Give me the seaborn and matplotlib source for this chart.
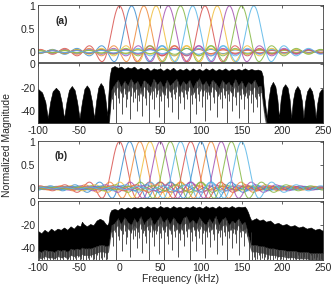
import numpy as np
import pandas as pd
import matplotlib
matplotlib.use("Agg")
import matplotlib.pyplot as plt
import seaborn as sns

# ---------------- data ----------------
centres_a = [0, 15, 30, 45, 60, 75, 90, 105, 120, 135, 150, 165]
centres_b = [0, 12.5, 25, 37.5, 50, 62.5, 75, 87.5, 100, 112.5, 125, 137.5, 150]
lobe_width = 15.0
colors_a = ["#d9534f", "#3d8fd1", "#ef8a3c", "#f0be3c", "#a552b2", "#84b844",
            "#5ab7e8", "#d9534f", "#f0be3c", "#a552b2", "#84b844", "#5ab7e8"]
colors_b = ["#d9534f", "#3d8fd1", "#ef8a3c", "#f0be3c", "#a552b2", "#84b844",
            "#5ab7e8", "#d9534f", "#3d8fd1", "#ef8a3c", "#a552b2", "#84b844", "#5ab7e8"]

# spectrum (a): upper envelope and lower edge of the dense black band (dB)
spec_a_f = [-100, -95, -91, -88, -85, -82, -78, -74, -71, -68, -65, -62, -58.5, -55, -52, -49,
            -46, -43, -40, -37, -34, -31, -28.5, -26, -23, -20, -17.5, -15, -13.5, -12, -10,
            -6, -2, 2, 6, 10, 14, 18, 22, 26, 30, 34, 38, 42, 46, 50, 54, 58, 62, 66, 70,
            74, 78, 82, 86, 90, 94, 98, 102, 106, 110, 114, 118, 122, 126, 130, 134, 138,
            142, 146, 150, 154, 158, 162, 166, 170, 174, 176, 178, 181, 183, 185.5, 188.5,
            191.5, 194, 196, 198, 200.5, 203.5, 206.5, 209, 211, 213, 215.5, 218.5, 221.5,
            224, 226, 228, 230.5, 233.5, 236.5, 239, 241, 243, 245.5, 248.5, 250]
spec_a_top = [-21, -24, -32, -46, -32, -23, -20, -23, -32, -46, -32, -22, -18.5, -22, -32, -46,
              -32, -21, -18, -21, -31, -46, -31, -20, -16, -19, -28, -44, -25, -10, -3,
              -1.5, -3, -2, -4, -2.5, -3.5, -2, -4.5, -3, -4.5, -3, -5.5, -3.5, -4.5, -3.5, -5.5,
              -3.5, -5, -3, -5.5, -4, -5, -3.5, -5.5, -3.5, -5, -4, -5.5, -3.5, -5, -3.5, -5.5,
              -4, -5, -3.5, -5.5, -4, -5, -4, -5, -3.5, -5, -4, -5, -4.5, -5.5, -10, -28, -46,
              -30, -19, -15, -19, -30, -46, -30, -20, -17, -20, -30, -46, -31, -22, -18.5, -22,
              -31, -46, -32, -23, -19.5, -23, -32, -46, -33, -24, -21, -22]
spec_a_dense = [-50, -50, -50, -50, -50, -50, -50, -50, -50, -50, -50, -50, -50, -50, -50, -50,
                -50, -50, -50, -50, -50, -50, -50, -50, -50, -50, -50, -50, -50, -40, -22,
                -17, -13, -19, -14, -18, -12, -17, -14, -20, -13, -16, -19, -12, -17, -14, -20,
                -13, -18, -15, -12, -19, -14, -17, -13, -20, -15, -12, -18, -14, -19, -13, -16,
                -20, -13, -17, -15, -19, -12, -18, -14, -20, -15, -17, -13, -19, -18, -30, -40, -50,
                -50, -50, -50, -50, -50, -50, -50, -50, -50, -50, -50, -50, -50, -50, -50, -50,
                -50, -50, -50, -50, -50, -50, -50, -50, -50, -50, -50, -50]
# downward spikes below the dense band (position kHz, lowest dB)
spike_a_f = [-9, -7.5, -5.5, -4, -2, -0.5, 1.5, 3, 4.5, 6.5, 8, 9.5, 11.5, 13, 14.5, 16.5, 18,
             19.5, 21.5, 23, 24.5, 26.5, 28, 29.5, 31.5, 33, 34.5, 36.5, 38, 39.5, 41.5, 43,
             44.5, 46.5, 48, 49.5, 51.5, 53, 54.5, 56.5, 58, 59.5, 61.5, 63, 64.5, 66.5, 68,
             69.5, 71.5, 73, 74.5, 76.5, 78, 79.5, 81.5, 83, 84.5, 86.5, 88, 89.5, 91.5, 93,
             94.5, 96.5, 98, 99.5, 101.5, 103, 104.5, 106.5, 108, 109.5, 111.5, 113, 114.5,
             116.5, 118, 119.5, 121.5, 123, 124.5, 126.5, 128, 129.5, 131.5, 133, 134.5, 136.5,
             138, 139.5, 141.5, 143, 144.5, 146.5, 148, 149.5, 151.5, 153, 154.5, 156.5, 158,
             159.5, 161.5, 163, 164.5, 166.5, 168, 169.5, 171.5, 173]
spike_a_lo = [-30, -38, -26, -50, -29, -33, -24, -42, -28, -25, -36, -30, -23, -47, -27, -32,
              -24, -29, -40, -26, -31, -23, -44, -27, -29, -35, -24, -50, -26, -30, -23, -38,
              -28, -25, -45, -27, -31, -24, -50, -26, -29, -36, -23, -28, -41, -25, -30, -24,
              -47, -27, -33, -24, -28, -38, -25, -30, -23, -50, -26, -34, -24, -29, -42, -25,
              -31, -23, -36, -27, -48, -24, -30, -26, -39, -24, -28, -33, -23, -45, -27, -30,
              -24, -37, -26, -29, -50, -25, -31, -24, -40, -27, -28, -35, -24, -46, -26, -30,
              -25, -38, -27, -29, -50, -26, -33, -25, -41, -28, -30, -36, -27, -50]

# spectrum (b)
spec_b_f = [-100, -96, -92, -88, -84, -80, -76, -72, -68, -64, -60, -56, -52, -48, -46, -44,
            -40, -36, -32, -28, -24, -20, -17, -15, -13.5, -12, -10, -6, -2, 2, 6, 10, 14,
            18, 22, 26, 30, 34, 38, 42, 46, 50, 54, 58, 62, 66, 70, 74, 78, 82, 86, 90, 94,
            98, 102, 106, 110, 114, 118, 122, 126, 130, 134, 138, 142, 146, 150, 154, 156,
            158, 160, 162, 165, 168, 172, 176, 180, 185, 190, 195, 200, 205, 210, 215, 220,
            225, 230, 235, 240, 245, 250]
spec_b_top = [-25, -27, -24, -26, -23, -25, -23, -24, -22, -24, -21, -23, -20, -21, -17, -19,
              -21, -19, -20, -16, -14.5, -16, -19, -20, -18, -10, -7, -6, -7, -5, -6.5, -4.5, -6,
              -4, -5.5, -4, -5.5, -3.5, -5, -4, -5.5, -3.5, -5, -4, -5.5, -3.5, -5, -4, -5.5, -4, -5, -3.5,
              -5, -4, -5.5, -3.5, -5, -4, -5.5, -3.5, -5, -4, -5, -3.5, -5, -4, -4.5, -4, -6,
              -9, -13, -16, -15, -14, -16, -15, -17, -16, -19, -18, -20, -19, -21, -20, -22,
              -21, -23, -22, -24, -23, -25]
spec_b_dense = [-42, -43, -41, -42, -42, -43, -41, -42, -41, -43, -40, -41, -40, -41, -39, -40,
                -40, -40, -39, -38, -37, -37, -38, -38, -37, -30, -20, -18, -14, -19, -13, -17, -20,
                -14, -18, -12, -19, -15, -13, -20, -16, -12, -18, -14, -19, -13, -17, -20, -14, -12, -18, -15,
                -19, -13, -17, -20, -14, -18, -12, -19, -15, -13, -20, -16, -18, -14, -19, -17, -22,
                -28, -33, -37, -37, -37, -38, -38, -39, -40, -40, -41, -41, -42, -42, -42, -43,
                -43, -43, -44, -44, -44, -44]
spike_b_f = [-99, -97, -95, -93, -91, -89, -87, -85, -83, -81, -79, -77, -75, -73, -71, -69,
             -67, -65, -63, -61, -59, -57, -55, -53, -51, -49, -47, -45, -43, -41, -39, -37,
             -35, -33, -31, -29, -27, -25, -23, -21, -19, -17, -15,
             -9, -7.5, -5.5, -4, -2, -0.5, 1.5, 3, 4.5, 6.5, 8, 9.5, 11.5, 13, 14.5, 16.5, 18,
             19.5, 21.5, 23, 24.5, 26.5, 28, 29.5, 31.5, 33, 34.5, 36.5, 38, 39.5, 41.5, 43,
             44.5, 46.5, 48, 49.5, 51.5, 53, 54.5, 56.5, 58, 59.5, 61.5, 63, 64.5, 66.5, 68,
             69.5, 71.5, 73, 74.5, 76.5, 78, 79.5, 81.5, 83, 84.5, 86.5, 88, 89.5, 91.5, 93,
             94.5, 96.5, 98, 99.5, 101.5, 103, 104.5, 106.5, 108, 109.5, 111.5, 113, 114.5,
             116.5, 118, 119.5, 121.5, 123, 124.5, 126.5, 128, 129.5, 131.5, 133, 134.5, 136.5,
             138, 139.5, 141.5, 143, 144.5, 146.5, 148, 149.5, 151.5, 153, 154.5, 156.5,
             159, 161, 163, 165, 167, 169, 171, 173, 175, 177, 179, 181, 183, 185, 187, 189,
             191, 193, 195, 197, 199, 201, 203, 205, 207, 209, 211, 213, 215, 217, 219, 221,
             223, 225, 227, 229, 231, 233, 235, 237, 239, 241, 243, 245, 247, 249]
spike_b_lo = [-50, -47, -50, -49, -46, -50, -48, -50, -47, -50, -49, -50, -46, -50, -48, -50,
              -47, -50, -49, -50, -46, -50, -48, -50, -47, -50, -49, -50, -46, -50, -48, -50,
              -47, -50, -49, -50, -46, -50, -48, -50, -47, -50, -49,
              -30, -38, -26, -50, -29, -33, -24, -42, -28, -25, -36, -30, -23, -47, -27, -32,
              -24, -29, -40, -26, -31, -23, -44, -27, -29, -35, -24, -50, -26, -30, -23, -38,
              -28, -25, -45, -27, -31, -24, -50, -26, -29, -36, -23, -28, -41, -25, -30, -24,
              -47, -27, -33, -24, -28, -38, -25, -30, -23, -50, -26, -34, -24, -29, -42, -25,
              -31, -23, -36, -27, -48, -24, -30, -26, -39, -24, -28, -33, -23, -45, -27, -30,
              -24, -37, -26, -29, -50, -25, -31, -24, -40, -27, -28, -35, -24, -46, -26, -30,
              -25, -38, -27, -29, -50, -26,
              -50, -47, -50, -49, -46, -50, -48, -50, -47, -50, -49, -50, -46, -50, -48, -50,
              -47, -50, -49, -50, -46, -50, -48, -50, -47, -50, -49, -50, -46, -50, -48, -50,
              -47, -50, -49, -50, -46, -50, -48, -50, -47, -50, -49, -50, -50, -48]

xticks = [-100, -50, 0, 50, 100, 150, 200, 250]

# ---------------- figure ----------------
sns.set_theme(style="white")
plt.rcParams["font.family"] = ["Liberation Sans", "DejaVu Sans"]
plt.rcParams["axes.unicode_minus"] = False
txt = "#262626"

fig = plt.figure(figsize=(3.36, 2.90), dpi=100)
L, W = 38 / 336, 285 / 336
def box(top, bot):
    return [L, 1 - bot / 290, W, (bot - top) / 290]
ax1 = fig.add_axes(box(5, 61.7))
ax2 = fig.add_axes(box(63.3, 123))
ax3 = fig.add_axes(box(140.7, 198.3))
ax4 = fig.add_axes(box(201, 260))

f = np.linspace(-100, 250, 1751)

def pulses(ax, centres, cols):
    rows = []
    for i, c in enumerate(centres):
        rows.append(pd.DataFrame({"f": f, "v": np.sinc((f - c) / lobe_width), "k": i}))
    df = pd.concat(rows, ignore_index=True)
    sns.lineplot(data=df, x="f", y="v", hue="k", palette=cols, ax=ax,
                 estimator=None, legend=False, linewidth=0.75, alpha=0.85, sort=False)
    ax.set_ylim(-0.22, 1.02)
    ax.set_yticks([0, 0.5, 1])
    ax.set_yticklabels(["0", "0.5", "1"])

def spectrum(ax, sf, top, dense, spf, splo):
    n = min(len(sf), len(top), len(dense))
    sf = np.asarray(sf[:n], float)
    top = np.asarray(top[:n], float)
    dense = np.asarray(dense[:n], float)
    m = min(len(spf), len(splo))
    spf = np.asarray(spf[:m], float)
    splo = np.asarray(splo[:m], float)
    ax.fill_between(sf, dense - 6, dense, color="#5e5e5e", linewidth=0)
    ax.fill_between(sf, dense, top, color="black", linewidth=0.4, edgecolor="black")
    d = np.interp(spf, sf, dense)
    ax.vlines(spf, splo, d, color="#333333", linewidth=0.6)
    ax.set_ylim(-50, 0.8)
    ax.set_yticks([-40, -20, 0])
    ax.set_yticklabels(["-40", "-20", "0"])

pulses(ax1, centres_a, colors_a)
pulses(ax3, centres_b, colors_b)
spectrum(ax2, spec_a_f, spec_a_top, spec_a_dense, spike_a_f, spike_a_lo)
spectrum(ax4, spec_b_f, spec_b_top, spec_b_dense, spike_b_f, spike_b_lo)

for ax in (ax1, ax2, ax3, ax4):
    ax.set_xlim(-100, 250)
    ax.set_xticks(xticks)
    ax.set_xticklabels([str(t) for t in xticks])
    ax.set_xlabel("")
    ax.set_ylabel("")
    ax.tick_params(direction="in", top=True, right=True, length=2.5, width=0.5,
                   colors=txt, labelsize=7.5, pad=2)
    for s in ax.spines.values():
        s.set_linewidth(0.6)
        s.set_color("#404040")
ax1.set_xticklabels([])
ax3.set_xticklabels([])

ax1.text(-78, 0.66, "(a)", fontsize=7.5, fontweight="bold", color=txt, va="center")
ax3.text(-80, 0.69, "(b)", fontsize=7.5, fontweight="bold", color=txt, va="center")
ax4.set_xlabel("Frequency (kHz)", fontsize=7.5, color=txt, labelpad=1)
fig.text(0.02, 0.5, "Normalized Magnitude", rotation=90, fontsize=7.5, color=txt,
         ha="center", va="center")

fig.savefig("out.png", dpi=100)
